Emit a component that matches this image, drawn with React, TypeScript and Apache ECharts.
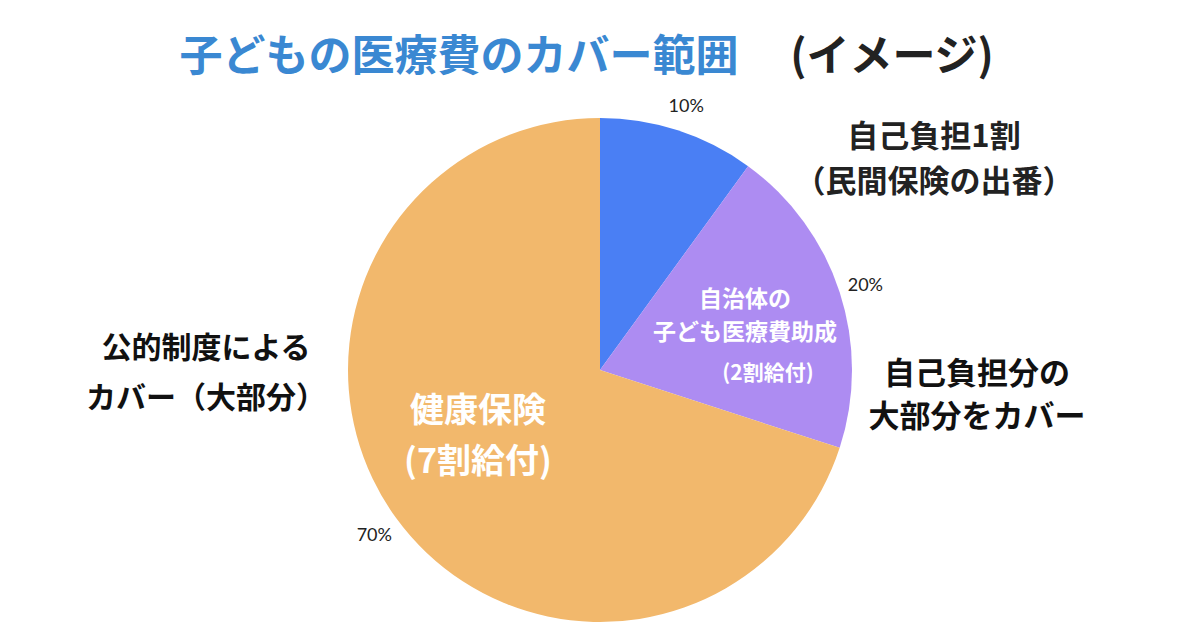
import { useEffect, useRef } from "react";
import * as echarts from "echarts";

// slices, clockwise from 12 o'clock
const sliceNames = ["自己負担1割", "自治体の助成", "健康保険"];
const sliceValues = [10, 20, 70];
const sliceColors = ["#4a7ff4", "#ad8cf2", "#f2b86c"];

const titleMain = "子どもの医療費のカバー範囲";
const titleSub = "(イメージ)";

const noteTop = ["自己負担1割", "（民間保険の出番）"];
const noteRight = ["自己負担分の", "大部分をカバー"];
const noteLeft = ["公的制度による", "カバー（大部分）"];
const insideOrange = ["健康保険", "(7割給付)"];
const insidePurple = ["自治体の", "子ども医療費助成", "(2割給付)"];

const JP = '"Noto Sans CJK JP", "Noto Sans", sans-serif';

function txt(text: string, x: number, y: number, size: number, fill: string, lineHeight?: number) {
  return {
    type: "text",
    silent: true,
    z: 100,
    style: {
      text,
      x,
      y,
      fill,
      font: `bold ${size}px ${JP}`,
      lineHeight: lineHeight ?? size * 1.3,
      textAlign: "center",
      textVerticalAlign: "middle",
      align: "center",
      verticalAlign: "middle",
    },
  };
}

export default function App() {
  const ref = useRef<HTMLDivElement | null>(null);

  useEffect(() => {
    const el = ref.current;
    if (!el) {
      return;
    }
    const chart = echarts.init(el, null, { renderer: "svg" });

    const data = sliceNames.map((name, i) => ({
      name,
      value: sliceValues[i],
      itemStyle: { color: sliceColors[i] },
    }));

    chart.setOption({
      animation: false,
      backgroundColor: "#ffffff",
      series: [
        {
          type: "pie",
          center: [600, 370],
          radius: [0, 252],
          startAngle: 90,
          clockwise: true,
          data,
          label: { show: false },
          labelLine: { show: false },
          silent: true,
          z: 2,
        },
        {
          // transparent ring that only carries the percent labels
          type: "pie",
          center: [600, 370],
          radius: [262, 290],
          startAngle: 90,
          clockwise: true,
          data: data.map((d) => ({ ...d, itemStyle: { color: "transparent" } })),
          label: {
            show: true,
            position: "inside",
            formatter: "{c}%",
            color: "#222222",
            fontSize: 18,
            fontFamily: "Lato, 'Noto Sans', sans-serif",
          },
          labelLine: { show: false },
          silent: true,
          z: 2,
        },
      ],
      graphic: {
        elements: [
          txt(titleMain, 459, 52, 43, "#3a88d2"),
          txt(titleSub, 892, 52, 43, "#222222"),
          txt(noteTop.join("\n"), 934, 156, 31, "#222222", 45),
          txt(noteRight.join("\n"), 977, 392, 31, "#111111", 43),
          txt(noteLeft.join("\n"), 206, 370, 30, "#111111", 50),
          txt(insideOrange.join("\n"), 478, 433, 34, "#ffffff", 51),
          txt(insidePurple[0], 745, 297, 23, "#ffffff"),
          txt(insidePurple[1], 745, 330, 23, "#ffffff"),
          txt(insidePurple[2], 768, 371, 21, "#ffffff"),
        ],
      },
    });

    return () => {
      chart.dispose();
    };
  }, []);

  return (
    <div
      ref={ref}
      style={{ position: "fixed", left: 0, top: 0, width: 1200, height: 630 }}
    />
  );
}
